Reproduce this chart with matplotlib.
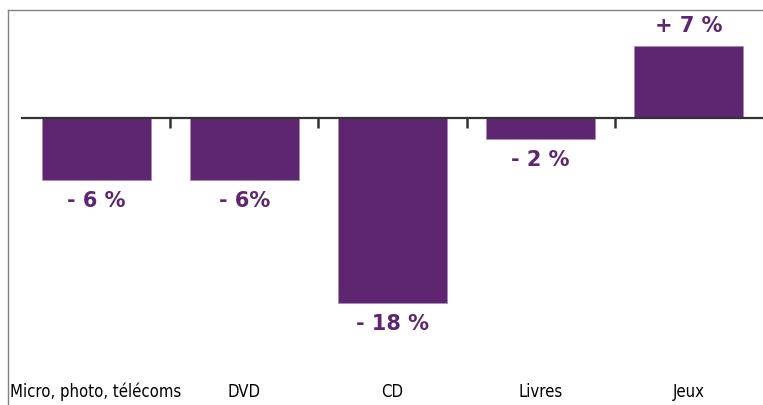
import matplotlib.pyplot as plt
from matplotlib.lines import Line2D
from matplotlib.transforms import blended_transform_factory, offset_copy
from matplotlib import font_manager

# DATA
categories = ["Micro, photo, télécoms", "DVD", "CD", "Livres", "Jeux"]
values = [-6, -6, -18, -2, 7]
value_labels = ["- 6 %", "- 6%", "- 18 %", "- 2 %", "+ 7 %"]

COLOR_BAR = "#5e2670"
COLOR_EDGE = "#a98bb3"
COLOR_AXIS = "#333333"
COLOR_FRAME = "#808080"

# look for a condensed face for the category labels
names = {f.name for f in font_manager.fontManager.ttflist}
cond = [n for n in ["Liberation Sans Narrow", "DejaVu Sans Condensed"] if n in names]
if cond:
	CAT_FONT = dict(family=[cond[0], "DejaVu Sans"], fontsize=12)
else:
	CAT_FONT = dict(family=["DejaVu Sans"], fontsize=12, stretch="condensed")

W, H = 763, 405
fig = plt.figure(figsize=(W / 100, H / 100), dpi=100)

# axes: x from 22 px to right edge, full height
ax = fig.add_axes([22 / W, 0, 1 - 22 / W, 1])
px_per_unit = 10.3
zero_y = 118
ax.set_xlim(-0.5, len(categories) - 0.5)
ax.set_ylim(-(H - zero_y) / px_per_unit, zero_y / px_per_unit)

x = range(len(categories))
ax.bar(x, values, width=0.735, color=COLOR_BAR, edgecolor=COLOR_EDGE,
       linewidth=0.6, zorder=3)

# zero axis with ticks between categories
for s in ["top", "right", "left"]:
	ax.spines[s].set_visible(False)
ax.spines["bottom"].set_position(("data", 0))
ax.spines["bottom"].set_color(COLOR_AXIS)
ax.spines["bottom"].set_linewidth(1.6)
ax.spines["bottom"].set_zorder(4)
ax.set_yticks([])
ax.set_xticks([i + 0.5 for i in range(len(categories) - 1)])
ax.set_xticklabels([])
ax.tick_params(axis="x", direction="out", length=7, width=1.8,
               color=COLOR_AXIS)

# value labels
for i, (v, lab) in enumerate(zip(values, value_labels)):
	dy = 20 if v > 0 else -21
	tr = offset_copy(ax.transData, fig=fig, x=0, y=dy * 0.72, units="points")
	ax.text(i, v, lab, transform=tr, ha="center", va="center",
	        fontsize=15, fontweight="bold", color=COLOR_BAR,
	        family="DejaVu Sans")

# category labels along the bottom
tr_cat = blended_transform_factory(ax.transData, fig.transFigure)
for i, cat in enumerate(categories):
	ax.text(i, 1 - 392 / H, cat, transform=tr_cat, ha="center",
	        va="center", color="black", **CAT_FONT)

# outer frame (top and left edges)
fig.add_artist(Line2D([8 / W, 8 / W], [0, 1 - 10 / H], color=COLOR_FRAME,
                      lw=1.0, transform=fig.transFigure))
fig.add_artist(Line2D([8 / W, 1], [1 - 10 / H, 1 - 10 / H], color=COLOR_FRAME,
                      lw=1.0, transform=fig.transFigure))

plt.savefig("out.png", dpi=100)
plt.close()
